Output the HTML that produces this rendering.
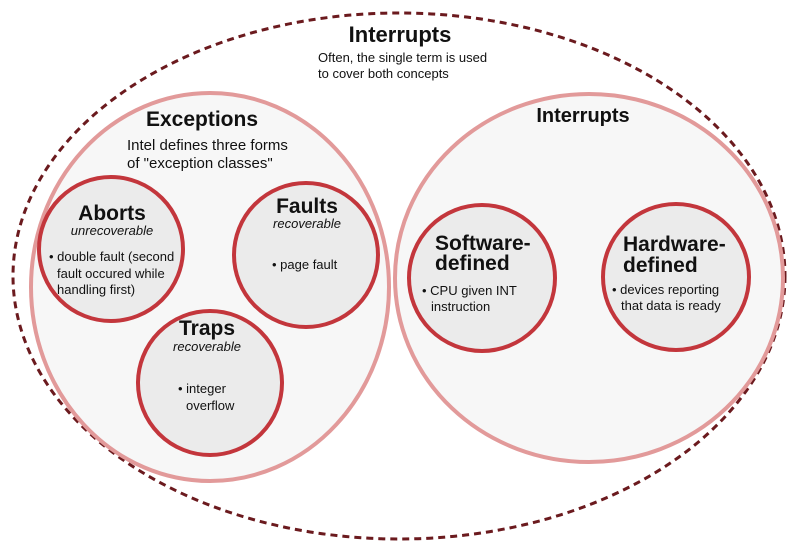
<!DOCTYPE html>
<html><head><meta charset="utf-8"><style>
html,body{margin:0;padding:0;background:#fff;}
svg text{font-family:"Liberation Sans",Arial,sans-serif;fill:#111;}
.b{font-weight:bold;}
</style></head><body>
<svg width="800" height="549" viewBox="0 0 800 549" xmlns="http://www.w3.org/2000/svg">
<ellipse cx="399" cy="276" rx="386" ry="263" fill="#fff" stroke="#6b1a1e" stroke-width="3" stroke-dasharray="7,5"/>
<ellipse cx="210" cy="287" rx="179" ry="194" fill="#f7f7f7" stroke="#e29a9a" stroke-width="4"/>
<ellipse cx="589" cy="278" rx="194" ry="184" fill="#f7f7f7" stroke="#e29a9a" stroke-width="4"/>
<g fill="#ebebeb" stroke="#c3363c" stroke-width="4">
<circle cx="111" cy="249" r="72"/>
<circle cx="306" cy="255" r="72"/>
<circle cx="210" cy="383" r="72"/>
<circle cx="482" cy="278" r="73"/>
<circle cx="676" cy="277" r="73"/>
</g>
<text x="400" y="42" font-size="22" class="b" text-anchor="middle">Interrupts</text>
<text x="318" y="62" font-size="13">Often, the single term is used</text>
<text x="318" y="78" font-size="13">to cover both concepts</text>
<text x="202" y="126" font-size="21" class="b" text-anchor="middle">Exceptions</text>
<text x="127" y="150" font-size="15">Intel defines three forms</text>
<text x="127" y="168" font-size="15">of "exception classes"</text>
<text x="112" y="220" font-size="21" class="b" text-anchor="middle">Aborts</text>
<text x="112" y="235" font-size="13" font-style="italic" text-anchor="middle">unrecoverable</text>
<text x="49" y="261" font-size="13">• double fault (second</text>
<text x="57" y="278" font-size="13">fault occured while</text>
<text x="57" y="294" font-size="13">handling first)</text>
<text x="307" y="213" font-size="21" class="b" text-anchor="middle">Faults</text>
<text x="307" y="228" font-size="13" font-style="italic" text-anchor="middle">recoverable</text>
<text x="272" y="269" font-size="13">• page fault</text>
<text x="207" y="335" font-size="21" class="b" text-anchor="middle">Traps</text>
<text x="207" y="351" font-size="13" font-style="italic" text-anchor="middle">recoverable</text>
<text x="178" y="393" font-size="13">• integer</text>
<text x="186" y="410" font-size="13">overflow</text>
<text x="583" y="122" font-size="20" class="b" text-anchor="middle">Interrupts</text>
<text x="435" y="250" font-size="21" class="b">Software-</text>
<text x="435" y="270" font-size="21" class="b">defined</text>
<text x="422" y="295" font-size="13">• CPU given INT</text>
<text x="431" y="311" font-size="13">instruction</text>
<text x="623" y="251" font-size="21" class="b">Hardware-</text>
<text x="623" y="272" font-size="21" class="b">defined</text>
<text x="612" y="294" font-size="13">• devices reporting</text>
<text x="621" y="310" font-size="13">that data is ready</text>
</svg>
</body></html>
